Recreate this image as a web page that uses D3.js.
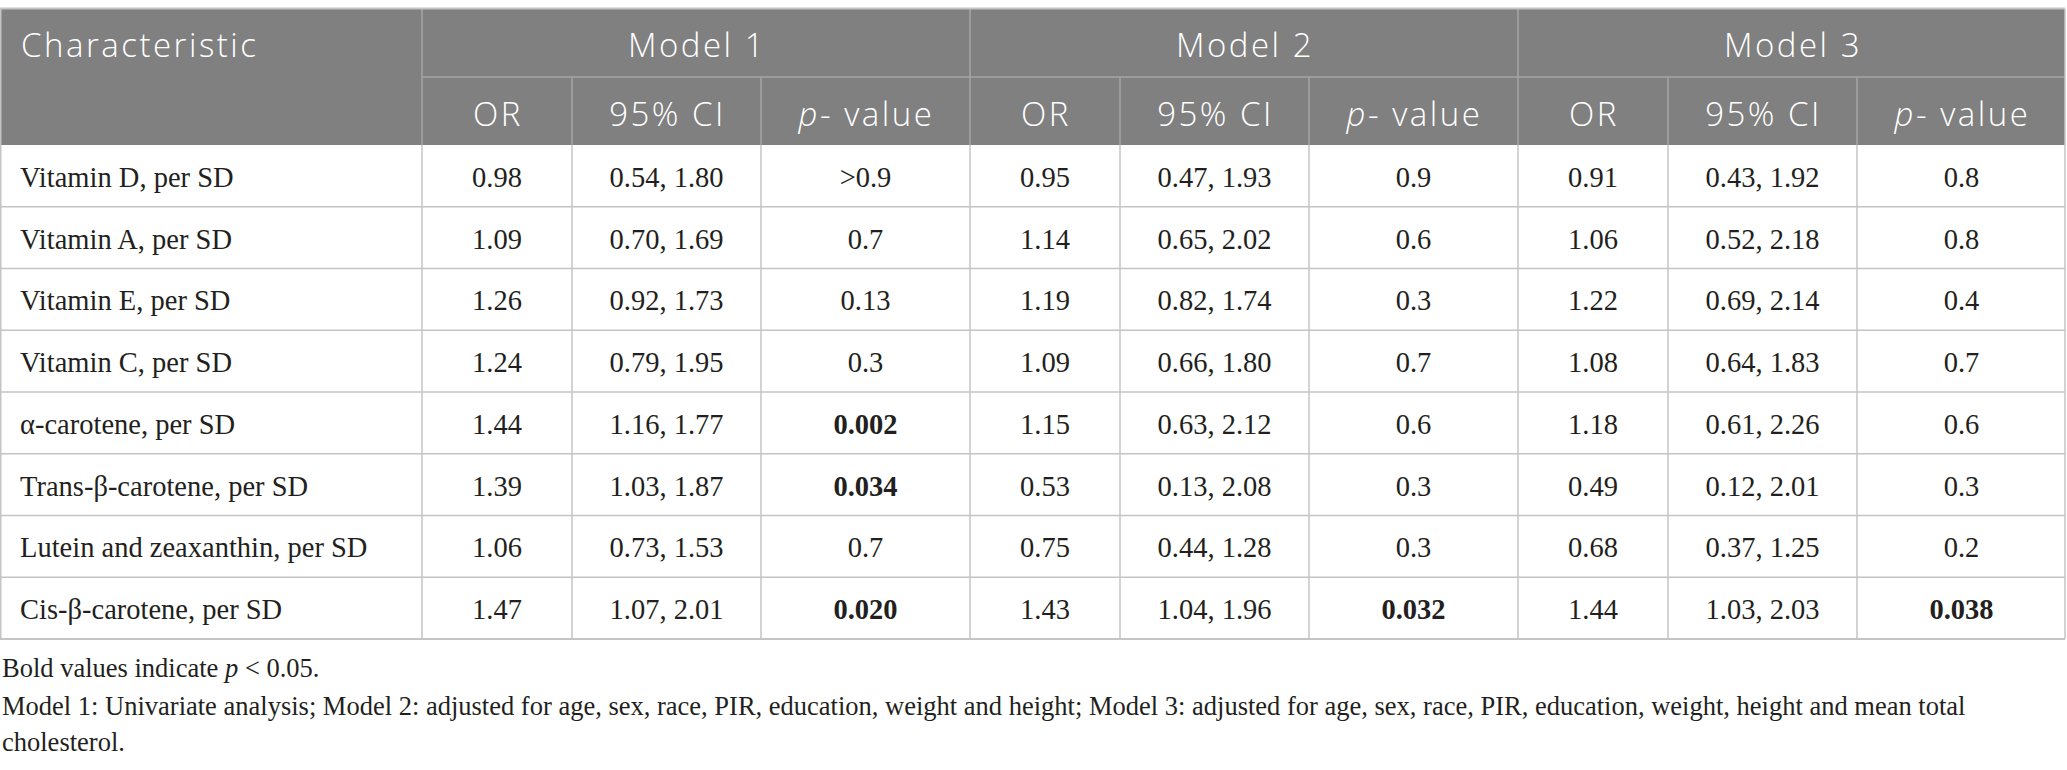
<!DOCTYPE html>
<html>
<head>
<meta charset="utf-8">
<script src="https://cdn.jsdelivr.net/npm/d3@7"></script>
<style>
  html, body { margin: 0; padding: 0; background: #fff; }
  svg { display: block; }
</style>
</head>
<body>
<div id="chart"></div>
<script>
// table content
var characteristics = [
  'Vitamin D, per SD',
  'Vitamin A, per SD',
  'Vitamin E, per SD',
  'Vitamin C, per SD',
  'α-carotene, per SD',
  'Trans-β-carotene, per SD',
  'Lutein and zeaxanthin, per SD',
  'Cis-β-carotene, per SD'
];
var models = ['Model 1', 'Model 2', 'Model 3'];
var subHeads = ['OR', '95% CI', 'p-value'];

var model1OR = ['0.98', '1.09', '1.26', '1.24', '1.44', '1.39', '1.06', '1.47'];
var model1CI = ['0.54, 1.80', '0.70, 1.69', '0.92, 1.73', '0.79, 1.95', '1.16, 1.77', '1.03, 1.87', '0.73, 1.53', '1.07, 2.01'];
var model1P  = ['>0.9', '0.7', '0.13', '0.3', '0.002', '0.034', '0.7', '0.020'];

var model2OR = ['0.95', '1.14', '1.19', '1.09', '1.15', '0.53', '0.75', '1.43'];
var model2CI = ['0.47, 1.93', '0.65, 2.02', '0.82, 1.74', '0.66, 1.80', '0.63, 2.12', '0.13, 2.08', '0.44, 1.28', '1.04, 1.96'];
var model2P  = ['0.9', '0.6', '0.3', '0.7', '0.6', '0.3', '0.3', '0.032'];

var model3OR = ['0.91', '1.06', '1.22', '1.08', '1.18', '0.49', '0.68', '1.44'];
var model3CI = ['0.43, 1.92', '0.52, 2.18', '0.69, 2.14', '0.64, 1.83', '0.61, 2.26', '0.12, 2.01', '0.37, 1.25', '1.03, 2.03'];
var model3P  = ['0.8', '0.8', '0.4', '0.7', '0.6', '0.3', '0.2', '0.038'];

var noteLines = [
  'Model 1: Univariate analysis; Model 2: adjusted for age, sex, race, PIR, education, weight and height; Model 3: adjusted for age, sex, race, PIR, education, weight, height and mean total',
  'cholesterol.'
];

var width = 2067, height = 770;
var tableTop = 9, headRow = 68, tableLeft = 0, tableRight = 2065;
var firstColW = 422;
var subColW = [150, 189, 209];
var modelW = d3.sum(subColW);
var bodyTop = tableTop + 2 * headRow;
var bodyBottom = 639;

var headFill = '#808080';
var headLine = '#a6a6a6';
var gridLine = '#c4c4c4';
var textCol = '#231f20';
var sans = '"Open Sans", "Noto Sans", Lato, sans-serif';
var serif = '"Liberation Serif", "DejaVu Serif", serif';

var modelCols = [model1OR, model1CI, model1P, model2OR, model2CI, model2P, model3OR, model3CI, model3P];

var svg = d3.select('#chart').append('svg')
  .attr('width', width)
  .attr('height', height);

var x = d3.scaleBand()
  .domain(models)
  .range([firstColW, firstColW + models.length * modelW]);

var y = d3.scaleBand()
  .domain(d3.range(characteristics.length))
  .range([bodyTop, bodyBottom]);

function subX(mi, si) {
  return x(models[mi]) + d3.sum(subColW.slice(0, si));
}

function headText(sel) {
  return sel.attr('fill', '#fff')
    .attr('font-family', sans)
    .attr('font-weight', 300)
    .attr('font-size', 33)
    .attr('letter-spacing', 2.5);
}

// header background
svg.append('rect')
  .attr('x', tableLeft).attr('y', tableTop)
  .attr('width', tableRight - tableLeft).attr('height', 2 * headRow)
  .attr('fill', headFill);

// header lines
var hl = svg.append('g').attr('stroke', headLine).attr('stroke-width', 1.5);
hl.selectAll('line.mv').data(models).enter().append('line')
  .attr('x1', function(d) { return x(d); }).attr('x2', function(d) { return x(d); })
  .attr('y1', tableTop).attr('y2', bodyTop);
hl.append('line')
  .attr('x1', firstColW).attr('x2', tableRight)
  .attr('y1', tableTop + headRow).attr('y2', tableTop + headRow);
models.forEach(function(m, mi) {
  [1, 2].forEach(function(si) {
    hl.append('line')
      .attr('x1', subX(mi, si)).attr('x2', subX(mi, si))
      .attr('y1', tableTop + headRow).attr('y2', bodyTop);
  });
});

// header text
svg.append('text')
  .attr('x', 21).attr('y', tableTop + 48)
  .call(headText)
  .text('Characteristic');

svg.selectAll('text.model').data(models).enter().append('text')
  .attr('class', 'model')
  .attr('x', function(d) { return x(d) + modelW / 2 + 1; })
  .attr('y', tableTop + 48)
  .attr('text-anchor', 'middle')
  .call(headText)
  .text(function(d) { return d; });

models.forEach(function(m, mi) {
  subHeads.forEach(function(h, si) {
    var t = svg.append('text')
      .attr('x', subX(mi, si) + subColW[si] / 2 + 1)
      .attr('y', tableTop + headRow + 49)
      .attr('text-anchor', 'middle')
      .call(headText);
    if (h === 'p-value') {
      t.append('tspan').attr('font-style', 'italic').text('p');
      t.append('tspan').text('- value');
    } else {
      t.text(h);
    }
  });
});

// body grid
var gl = svg.append('g').attr('stroke', gridLine).attr('stroke-width', 1.5).attr('fill', 'none');
gl.selectAll('line.row').data(d3.range(1, characteristics.length)).enter().append('line')
  .attr('x1', tableLeft).attr('x2', tableRight)
  .attr('y1', function(d) { return y(d); }).attr('y2', function(d) { return y(d); });
var colXs = [firstColW];
models.forEach(function(m, mi) {
  subHeads.forEach(function(h, si) {
    if (mi > 0 || si > 0) colXs.push(subX(mi, si));
  });
});
gl.selectAll('line.col').data(colXs).enter().append('line')
  .attr('x1', function(d) { return d; }).attr('x2', function(d) { return d; })
  .attr('y1', bodyTop).attr('y2', bodyBottom);
gl.append('line').attr('x1', tableLeft + 0.75).attr('x2', tableLeft + 0.75)
  .attr('y1', tableTop).attr('y2', bodyBottom);
gl.append('line').attr('x1', tableRight).attr('x2', tableRight)
  .attr('y1', tableTop).attr('y2', bodyBottom);
gl.append('line').attr('x1', tableLeft).attr('x2', tableRight)
  .attr('y1', bodyBottom).attr('y2', bodyBottom).attr('stroke-width', 2);
gl.append('line').attr('x1', tableLeft).attr('x2', tableRight)
  .attr('y1', tableTop - 0.5).attr('y2', tableTop - 0.5).attr('stroke-width', 2);

// body text
var rowText = y.bandwidth() / 2 + 11;
svg.selectAll('text.char').data(characteristics).enter().append('text')
  .attr('class', 'char')
  .attr('x', 20)
  .attr('y', function(d, i) { return y(i) + rowText; })
  .attr('font-family', serif).attr('font-size', 28.5).attr('fill', textCol)
  .text(function(d) { return d; });

modelCols.forEach(function(col, ci) {
  var mi = Math.floor(ci / 3), si = ci % 3;
  svg.selectAll('text.c' + ci).data(col).enter().append('text')
    .attr('class', 'c' + ci)
    .attr('x', subX(mi, si) + subColW[si] / 2)
    .attr('y', function(d, i) { return y(i) + rowText; })
    .attr('text-anchor', 'middle')
    .attr('font-family', serif).attr('font-size', 28.5).attr('fill', textCol)
    .attr('font-weight', function(d) {
      return (si === 2 && d.charAt(0) !== '>' && +d < 0.05) ? 'bold' : 'normal';
    })
    .text(function(d) { return d; });
});

// footnotes
var note1 = svg.append('text')
  .attr('x', 2).attr('y', 677)
  .attr('font-family', serif).attr('font-size', 26.5).attr('fill', textCol);
note1.append('tspan').text('Bold values indicate ');
note1.append('tspan').attr('font-style', 'italic').text('p');
note1.append('tspan').text(' < 0.05.');

svg.selectAll('text.note').data(noteLines).enter().append('text')
  .attr('class', 'note')
  .attr('x', 2)
  .attr('y', function(d, i) { return 715 + i * 36; })
  .attr('font-family', serif).attr('font-size', 26.5).attr('fill', textCol)
  .text(function(d) { return d; });
</script>
</body>
</html>
